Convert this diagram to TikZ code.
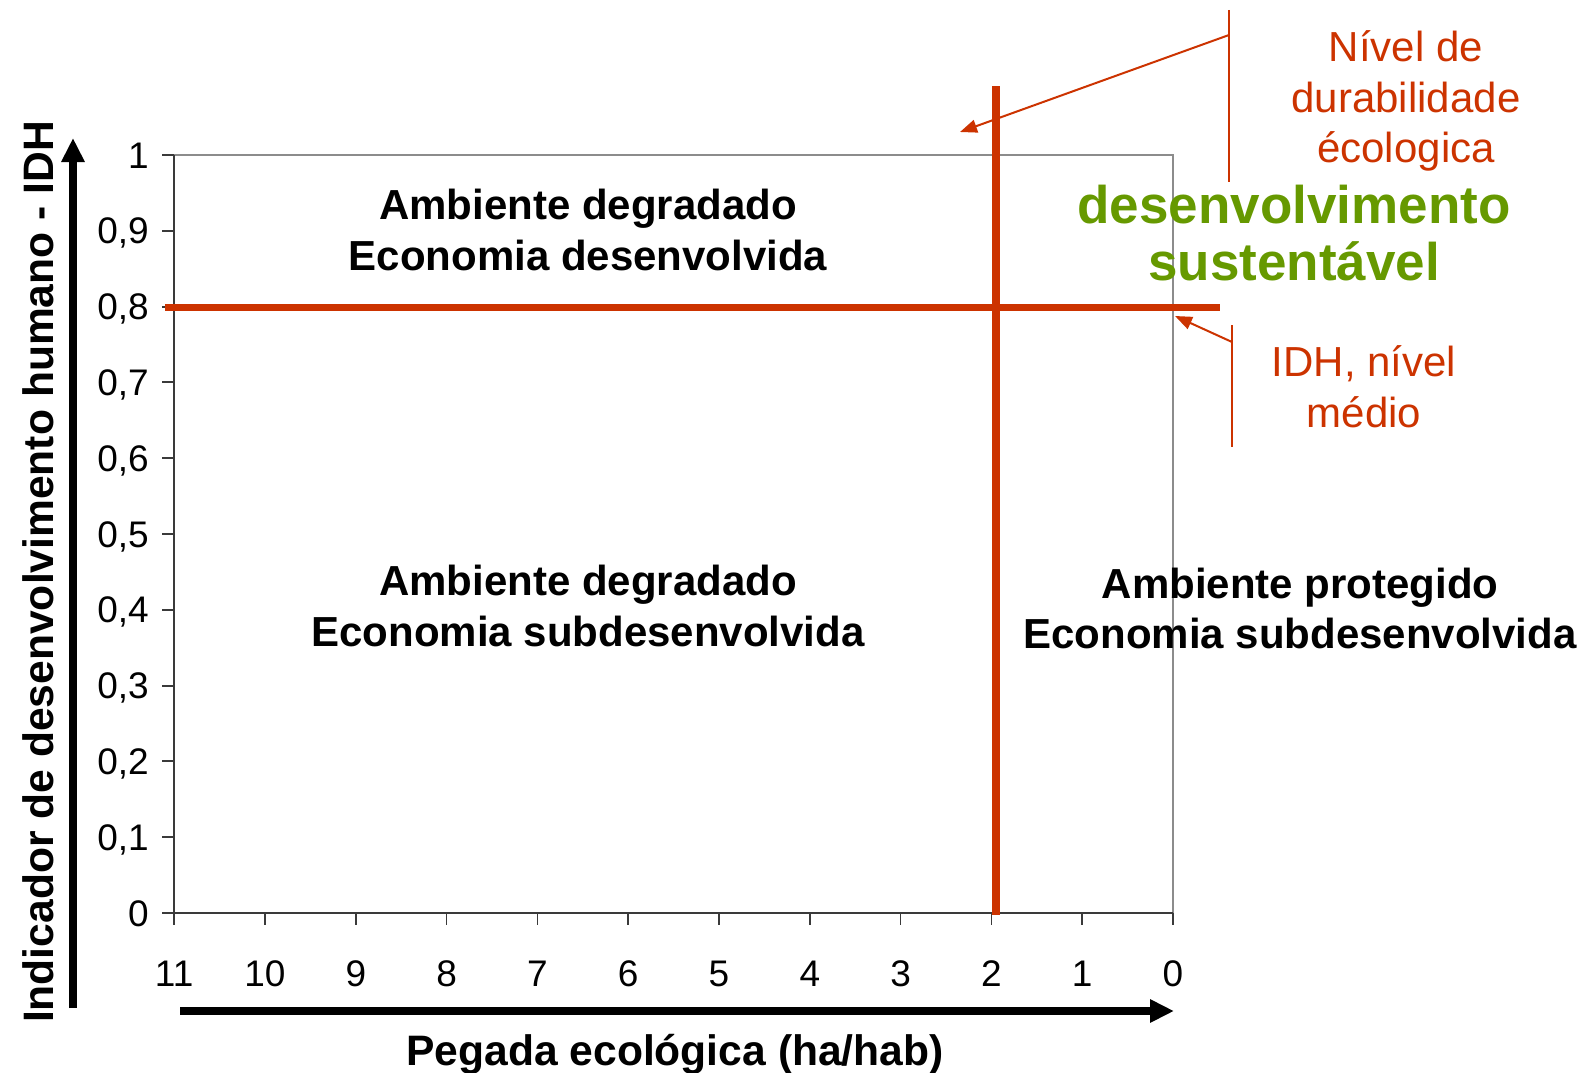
\documentclass[tikz,border=0pt]{standalone}
\usepackage{fontspec}
\setmainfont{Liberation Sans}
\usetikzlibrary{arrows.meta}
\definecolor{redc}{HTML}{CC3300}
\definecolor{greenc}{HTML}{669900}
\definecolor{boxgray}{HTML}{8C8C8C}
\definecolor{axisgray}{HTML}{3A3A3A}
\begin{document}
\begin{tikzpicture}[x=1pt,y=-1pt,
  quad/.style={font=\fontsize{42}{50}\selectfont\bfseries, anchor=base, inner sep=0pt},
  greentxt/.style={font=\fontsize{53}{60}\selectfont\bfseries, text=greenc, anchor=base, inner sep=0pt},
  anntxt/.style={font=\fontsize{42}{50}\selectfont, text=redc, anchor=base, inner sep=0pt},
  ticklab/.style={font=\fontsize{37}{44}\selectfont, inner sep=0pt},
  axtitle/.style={font=\fontsize{42.6}{50}\selectfont\bfseries, anchor=base, inner sep=0pt},
  bigarrow/.style={line width=8pt, -{Triangle[width=22pt,length=24pt]}},
  thinred/.style={draw=redc, line width=2pt},
  annarrow/.style={draw=redc, line width=2pt, -{Triangle[width=13pt,length=17pt]}},
  heavyred/.style={draw=redc, line width=8pt}
]
\useasboundingbox (0,0) rectangle (1585,1073);
% plot frame
\draw[boxgray, line width=2pt] (162,155) -- (1173,155) -- (1173,913);
\draw[axisgray, line width=2pt] (174,155) -- (174,925);
\draw[axisgray, line width=2pt] (162,913) -- (1173,913);
% y ticks
\foreach \i in {0,...,10} \draw[axisgray, line width=2pt] (162,{913-75.8*\i}) -- (174,{913-75.8*\i});
% x ticks
\foreach \k in {0,...,11} \draw[axisgray, line width=1.5pt] ({1173-90.8*\k},913) -- ({1173-90.8*\k},925);
% y tick labels
\foreach \i/\t in {0/0, 1/{0,1}, 2/{0,2}, 3/{0,3}, 4/{0,4}, 5/{0,5}, 6/{0,6}, 7/{0,7}, 8/{0,8}, 9/{0,9}, 10/1}
  \node[ticklab, anchor=base east] (yl\i) at (149,{913-75.8*\i+13}) {\t};
% x tick labels
\foreach \k in {0,...,11}
  \node[ticklab, anchor=base] (xl\k) at ({1173-90.8*\k},986) {\k};
% red threshold lines
\draw[heavyred, line width=7pt] (165,307) -- (1220,307);
\draw[heavyred] (996,86) -- (996,915);
% axes arrows
\coordinate (ybot) at (73,1008);
\coordinate (ytop) at (73,138);
\coordinate (xleft) at (180,1011);
\coordinate (xright) at (1174,1011);
\draw[bigarrow] (ybot) -- (ytop);
\draw[bigarrow] (xleft) -- (xright);
% axis titles
\node[axtitle, rotate=90] (ytitle) at (53,572) {Indicador de desenvolvimento humano - IDH};
\node[axtitle] (xtitle) at (675,1065) {Pegada ecológica (ha/hab)};
% quadrant labels
\node[quad] (q1a) at (588,219) {Ambiente degradado};
\node[quad] (q1b) at (588,270) {Economia desenvolvida};
\node[quad] (q2a) at (588,595) {Ambiente degradado};
\node[quad] (q2b) at (588,646) {Economia subdesenvolvida};
\node[quad] (q3a) at (1300,598) {Ambiente protegido};
\node[quad] (q3b) at (1300,648) {Economia subdesenvolvida};
% green label
\node[greentxt] (g1) at (1294,223) {desenvolvimento};
\node[greentxt] (g2) at (1294,280) {sustentável};
% annotations
\node[anntxt] (n1) at (1406,62) {Nível de};
\node[anntxt] (n2) at (1406,112) {durabilidade};
\node[anntxt] (n3) at (1406,162) {écologica};
\node[anntxt] (i1) at (1364,376) {IDH, nível};
\node[anntxt] (i2) at (1364,427) {médio};
\coordinate (b1top) at (1229,10);
\coordinate (b1bot) at (1229,182);
\coordinate (b1arr) at (1229,35);
\coordinate (b1tip) at (960,132);
\coordinate (b2top) at (1232,325);
\coordinate (b2bot) at (1232,447);
\coordinate (b2arr) at (1232,342);
\coordinate (b2tip) at (1175,316);
\draw[thinred] (b1top) -- (b1bot);
\draw[annarrow] (b1arr) -- (b1tip);
\draw[thinred] (b2top) -- (b2bot);
\draw[annarrow] (b2arr) -- (b2tip);
\end{tikzpicture}
\end{document}
